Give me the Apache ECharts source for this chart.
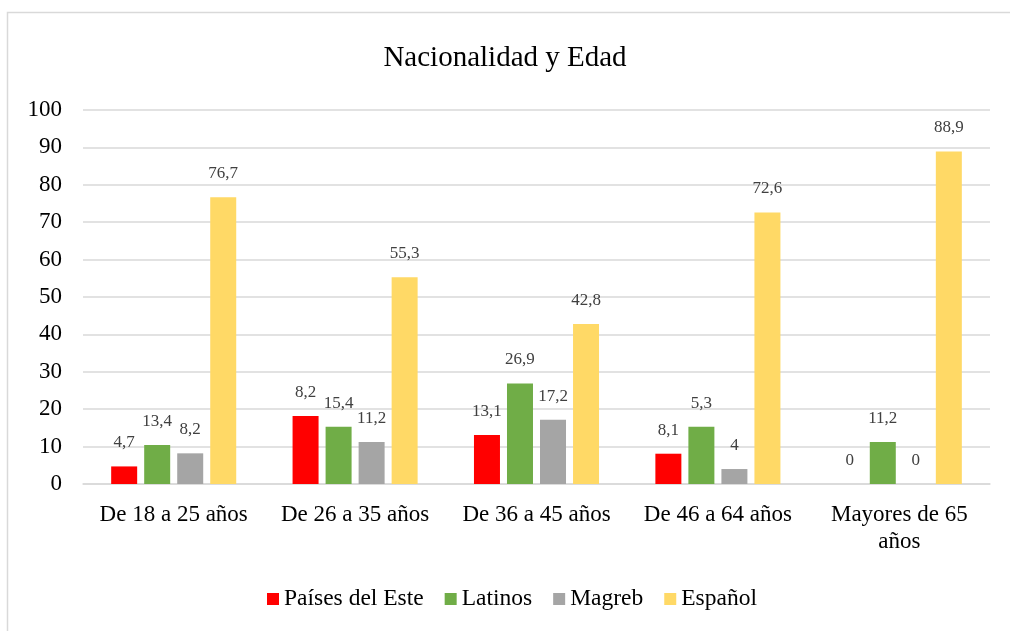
<!DOCTYPE html>
<html>
<head>
<meta charset="utf-8">
<script src="https://cdn.jsdelivr.net/npm/echarts@6/dist/echarts.min.js"></script>
<style>html,body{margin:0;padding:0;background:#fff}#c{width:1010px;height:631px}</style>
</head>
<body>
<div id="c"></div>
<script>
const categories = ['De 18 a 25 años', 'De 26 a 35 años', 'De 36 a 45 años', 'De 46 a 64 años', 'Mayores de 65\naños'];
const seriesNames = ['Países del Este', 'Latinos', 'Magreb', 'Español'];
// bar heights as drawn in the reference
const paisesEste = [4.7, 18.2, 13.1, 8.1, 0];
const latinos = [10.4, 15.3, 26.9, 15.3, 11.2];
const magreb = [8.2, 11.2, 17.2, 4, 0];
const espanol = [76.7, 55.3, 42.8, 72.6, 88.9];
// data labels as printed in the reference
const paisesEsteLabels = ['4,7', '8,2', '13,1', '8,1', '0'];
const latinosLabels = ['13,4', '15,4', '26,9', '5,3', '11,2'];
const magrebLabels = ['8,2', '11,2', '17,2', '4', '0'];
const espanolLabels = ['76,7', '55,3', '42,8', '72,6', '88,9'];
const yTicks = [0, 10, 20, 30, 40, 50, 60, 70, 80, 90, 100];

const colors = ['#ff0000', '#70ad47', '#a5a5a5', '#ffd966'];
const FONT = '"Liberation Serif", "DejaVu Serif", serif';

function mk(name, vals, labels, color) {
  return {
    name: name, type: 'bar', data: vals, barWidth: 26, barGap: '27%',
    itemStyle: { color: color },
    label: {
      show: true, position: 'top', distance: 15,
      fontFamily: FONT, fontSize: 17, color: '#404040',
      formatter: p => labels[p.dataIndex]
    }
  };
}

const chart = echarts.init(document.getElementById('c'));
chart.setOption({
  animation: false,
  backgroundColor: '#fff',
  title: {
    text: 'Nacionalidad y Edad', left: 'center', top: 39,
    textStyle: { fontFamily: FONT, fontSize: 29, fontWeight: 'normal', color: '#000' }
  },
  legend: {
    bottom: 15, left: 262, itemWidth: 12, itemHeight: 12, itemGap: 21,
    icon: 'rect',
    textStyle: { fontFamily: FONT, fontSize: 23.5, color: '#000' },
    data: seriesNames
  },
  graphic: [{
    type: 'rect', shape: { x: 7.5, y: 12.5, width: 1100, height: 700 },
    style: { fill: 'none', stroke: '#d9d9d9', lineWidth: 1.5 }, silent: true
  }],
  grid: { left: 83, right: 20, top: 110, bottom: 147, containLabel: false },
  xAxis: {
    type: 'category', data: categories,
    axisLine: { show: true, lineStyle: { color: '#d9d9d9', width: 1.5 } },
    axisTick: { show: false },
    axisLabel: { fontFamily: FONT, fontSize: 23, color: '#000', margin: 17, lineHeight: 27, interval: 0 }
  },
  yAxis: {
    type: 'value', min: 0, max: 100, interval: 10,
    axisLine: { show: false }, axisTick: { show: false },
    splitLine: { lineStyle: { color: '#d9d9d9', width: 1.5 } },
    axisLabel: { fontFamily: FONT, fontSize: 23, color: '#000', margin: 21,
      formatter: v => yTicks.includes(v) ? String(v) : '' }
  },
  series: [
    mk(seriesNames[0], paisesEste, paisesEsteLabels, colors[0]),
    mk(seriesNames[1], latinos, latinosLabels, colors[1]),
    mk(seriesNames[2], magreb, magrebLabels, colors[2]),
    mk(seriesNames[3], espanol, espanolLabels, colors[3])
  ]
});
</script>
</body>
</html>
